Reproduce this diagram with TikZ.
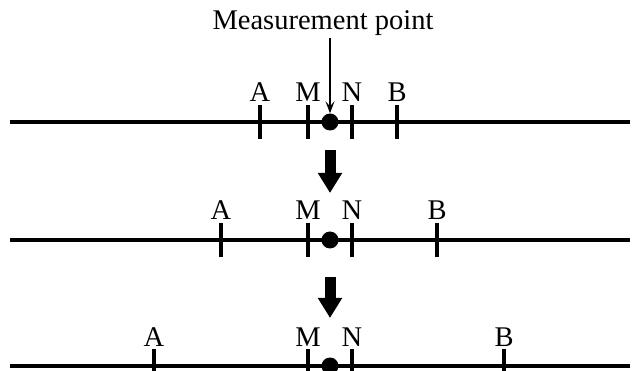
\documentclass[tikz,border=0pt]{standalone}
\usepackage{fontspec}
\setmainfont{Liberation Serif}
\usetikzlibrary{positioning,arrows.meta}

\begin{document}
\begin{tikzpicture}[x=1pt, y=-1pt,
    axis/.style={line width=4pt},
    tickmark/.style={line width=3.4pt},
    point/.style={circle, fill, inner sep=0pt, minimum size=17pt},
    letter/.style={font=\fontsize{28.5}{28.5}\selectfont, inner sep=0pt, anchor=base},
    bigarrow/.style={line width=11pt, -{Triangle[width=23pt, length=20pt]}}]
    \useasboundingbox (0,0) rectangle (640,371);

    % lines with electrodes
    \foreach \row/\y/\xa/\xb in {1/122/260/397, 2/240/221/437, 3/366/154/504}{
        \coordinate (l\row) at (10,\y);
        \coordinate (r\row) at (630,\y);
        \draw[axis] (l\row) -- (r\row);
        \node[point] (p\row) at (330,\y) {};
        \foreach \lbl/\x in {A/\xa, M/308, N/352, B/\xb}{
            \coordinate (\lbl\row) at (\x,\y);
            \draw[tickmark] ([yshift=17pt]\lbl\row) -- ([yshift=-17pt]\lbl\row);
            \node[letter] (\lbl\row t) at ([yshift=20pt]\lbl\row) {\lbl};
        }
    }

    % measurement point
    \node[letter] (mp) at (323,30) {Measurement point};
    \draw[line width=1.8pt, -{Stealth[length=12pt, width=9pt, inset=5pt]}] ([yshift=-2pt]mp.south -| p1) -- (p1.north);

    % big arrows
    \coordinate (d1) at (330,150);
    \coordinate (e1) at (330,193);
    \coordinate (d2) at (330,277);
    \coordinate (e2) at (330,318);
    \draw[bigarrow] (d1) -- (e1);
    \draw[bigarrow] (d2) -- (e2);
\end{tikzpicture}
\end{document}
